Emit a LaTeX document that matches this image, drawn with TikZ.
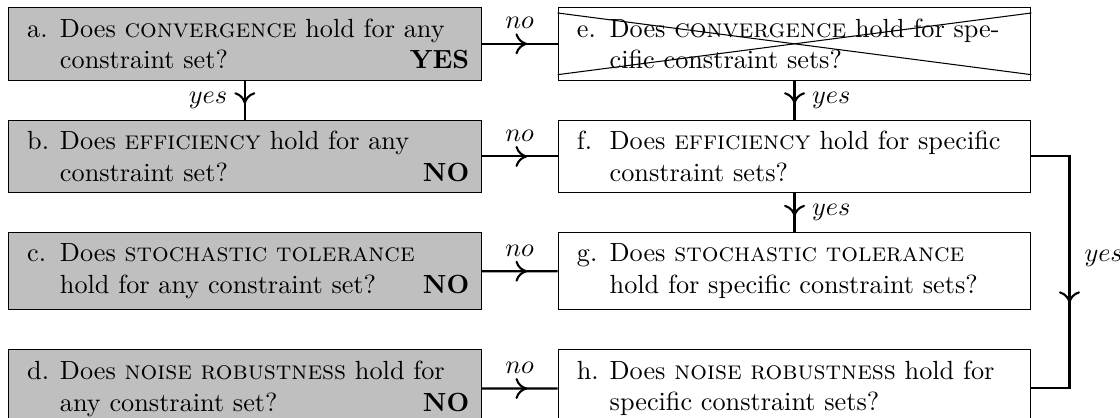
\documentclass[tikz,border=0pt]{standalone}
\usetikzlibrary{positioning,decorations.markings,arrows.meta}
\newcommand{\qtext}[2]{\hspace*{0.09cm}\makebox[1.25em][l]{#1}%
  \parbox[t]{\dimexpr 6.01cm-0.09cm-1.25em\relax}{#2}}

\begin{document}
\begin{tikzpicture}[
  qbox/.style={draw, thin, text width=6.01cm, inner xsep=0.16cm, inner ysep=4.25pt, align=left},
  anybox/.style={qbox, fill=lightgray},
  link/.style={thick, postaction={decorate},
    decoration={markings, mark=at position 0.6 with
      {\arrow{Computer Modern Rightarrow[length=4.5pt, width=8pt]}}}},
  node distance=0.522cm and 1.018cm]
  \useasboundingbox (0,0) rectangle (15.0,-5.598);
  \node[anybox, anchor=north west] (a) at (0.107,-0.094)
    {\qtext{a.}{Does \textsc{convergence} hold for any\newline constraint set? \hfill\textbf{YES}}};
  \node[anybox, below=of a] (b)
    {\qtext{b.}{Does \textsc{efficiency} hold for any\newline constraint set? \hfill\textbf{NO}}};
  \node[anybox, below=of b] (c)
    {\qtext{c.}{Does \textsc{stochastic tolerance}\newline hold for any constraint set? \hfill\textbf{NO}}};
  \node[anybox, below=of c] (d)
    {\qtext{d.}{Does \textsc{noise robustness} hold for\newline any constraint set? \hfill\textbf{NO}}};
  \node[qbox, right=of a] (e)
    {\qtext{e.}{Does \textsc{convergence} hold for spe-\newline cific constraint sets?}};
  \node[qbox, below=of e] (f)
    {\qtext{f.}{Does \textsc{efficiency} hold for specific\newline constraint sets?}};
  \node[qbox, below=of f] (g)
    {\qtext{g.}{Does \textsc{stochastic tolerance}\newline hold for specific constraint sets?}};
  \node[qbox, below=of g] (h)
    {\qtext{h.}{Does \textsc{noise robustness} hold for\newline specific constraint sets?}};
  \draw[thin] ([yshift=-0.08cm]e.north west) -- ([yshift=0.08cm]e.south east);
  \draw[thin] ([yshift=0.08cm]e.south west) -- ([yshift=-0.08cm]e.north east);
  \draw[link] (a) -- node[above=2pt] {$no$} (e);
  \draw[link] (b) -- node[above=2pt] {$no$} (f);
  \draw[link] (c) -- node[above=2pt] {$no$} (g);
  \draw[link] (d) -- node[above=2pt] {$no$} (h);
  \draw[link] (a) -- node[left=3pt] {$yes$} (b);
  \draw[link] (e) -- node[right=3pt] {$yes$} (f);
  \draw[link] (f) -- node[right=3pt] {$yes$} (g);
  \draw[link] (f.east) -- ++(0.51,0) |- node[pos=0.22, right=2pt] {$yes$} (h.east);
\end{tikzpicture}
\end{document}
